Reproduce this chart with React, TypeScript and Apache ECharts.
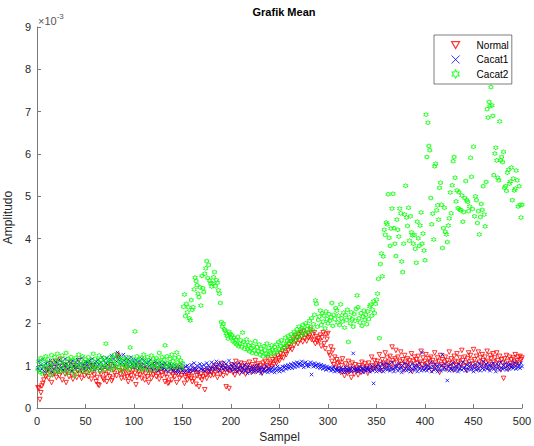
import React, { useEffect, useRef } from "react";
import * as echarts from "echarts";

const xTicks = [0, 50, 100, 150, 200, 250, 300, 350, 400, 450, 500];
const yTicks = [0, 1, 2, 3, 4, 5, 6, 7, 8, 9];
const seriesNames = ["Normal", "Cacat1", "Cacat2"];

// values in units of 1e-3, sample index = position + 1
const normal = [
  0.48, 0.46, 0.20, 0.36, 0.52, 0.58, 0.66, 0.80, 0.74, 0.88,
  0.92, 0.70, 0.85, 1.05, 0.60, 0.78, 0.95, 0.82, 1.10, 0.72,
  0.88, 0.98, 0.76, 1.15, 0.84, 0.66, 0.92, 1.02, 0.80, 0.60,
  0.86, 0.94, 0.74, 1.08, 0.90, 0.78, 0.68, 1.00, 0.84, 0.96,
  0.72, 0.88, 1.12, 0.80, 0.92, 0.70, 0.86, 0.98, 0.76, 0.90,
  0.82, 1.05, 0.74, 0.88, 0.95, 0.68, 0.84, 1.00, 0.78, 0.92,
  0.62, 0.72, 0.55, 0.53, 0.86, 0.80, 0.94, 0.70, 0.66, 0.88,
  0.78, 0.62, 0.96, 0.84, 0.74, 1.02, 0.64, 0.70, 0.90, 0.82,
  0.96, 0.76, 1.25, 1.20, 0.88, 0.80, 0.70, 0.94, 0.84, 0.72,
  0.86, 0.98, 0.74, 0.62, 0.80, 0.90, 0.76, 0.68, 0.88, 0.96,
  0.82, 0.55, 0.72, 0.92, 0.86, 0.78, 1.00, 0.70, 0.84, 0.92,
  0.66, 0.80, 0.94, 0.74, 0.60, 0.88, 0.82, 0.70, 0.96, 0.78,
  0.86, 1.02, 0.74, 0.90, 0.80, 0.68, 0.92, 0.84, 0.76, 0.98,
  0.88, 0.62, 0.80, 0.72, 0.58, 0.60, 0.94, 0.84, 0.66, 0.78,
  0.90, 0.74, 0.86, 0.60, 0.96, 0.80, 0.70, 0.88, 0.76, 0.92,
  0.84, 0.58, 0.72, 0.80, 0.66, 0.78, 0.74, 0.86, 0.70, 0.62,
  0.82, 0.68, 0.90, 0.56, 0.76, 0.84, 0.50, 0.72, 0.80, 0.66,
  0.74, 0.88, 0.43, 0.78, 0.70, 0.82, 0.86, 0.92, 0.76, 0.84,
  0.90, 0.78, 0.96, 0.84, 1.00, 0.72, 0.88, 0.94, 0.80, 1.05,
  0.86, 0.76, 0.92, 0.98, 0.50, 0.82, 0.90, 0.46, 0.88, 0.94,
  1.02, 0.84, 0.96, 0.78, 1.10, 0.88, 0.92, 1.00, 0.82, 1.06,
  0.90, 0.98, 0.86, 1.04, 0.80, 0.94, 1.00, 0.88, 1.08, 0.92,
  0.84, 1.02, 0.96, 0.90, 1.12, 0.86, 0.98, 1.04, 0.92, 1.00,
  0.88, 0.82, 1.06, 0.96, 1.10, 0.90, 1.00, 1.18, 0.94, 1.04,
  1.08, 0.98, 1.14, 1.02, 1.20, 1.10, 1.06, 1.24, 1.16, 1.12,
  1.28, 1.20, 1.34, 1.18, 1.40, 1.30, 1.26, 1.44, 1.36, 1.50,
  1.42, 1.56, 1.38, 1.62, 1.48, 1.70, 1.58, 1.66, 1.52, 1.74,
  1.60, 1.78, 1.68, 1.56, 1.82, 1.64, 1.72, 1.58, 1.76, 1.66,
  1.70, 1.84, 1.62, 1.74, 1.60, 1.78, 1.52, 1.68, 1.56, 1.64,
  1.58, 1.72, 1.46, 1.66, 1.78, 1.52, 1.40, 1.74, 1.62, 1.76,
  1.30, 1.24, 1.44, 1.10, 1.36, 1.02, 1.20, 0.96, 1.14, 1.06,
  0.92, 1.08, 0.84, 1.00, 1.16, 0.88, 0.76, 1.04, 0.94, 0.82,
  1.10, 0.86, 0.98, 0.72, 1.06, 0.90, 0.80, 1.02, 0.94, 0.88,
  0.78, 1.00, 0.92, 0.84, 1.08, 0.96, 0.86, 1.04, 0.90, 0.98,
  0.82, 1.06, 0.94, 0.88, 1.20, 1.00, 0.92, 1.12, 0.96, 1.04,
  1.10, 0.94, 1.26, 1.02, 0.88, 1.14, 1.06, 0.98, 1.30, 1.00,
  1.18, 1.08, 0.92, 1.22, 1.04, 1.44, 1.12, 0.96, 1.16, 1.36,
  1.06, 1.20, 0.98, 1.10, 1.32, 1.02, 1.14, 0.90, 1.24, 1.08,
  1.00, 1.16, 0.94, 1.12, 1.04, 1.28, 0.86, 1.10, 1.20, 0.98,
  1.14, 1.06, 1.22, 0.96, 1.08, 1.34, 1.02, 1.18, 0.92, 1.10,
  1.26, 1.04, 0.96, 1.16, 1.08, 1.20, 0.88, 1.12, 1.00, 1.30,
  1.06, 0.94, 1.18, 1.10, 0.84, 1.24, 1.02, 1.14, 0.98, 1.08,
  1.20, 0.92, 1.12, 1.04, 1.32, 0.96, 1.16, 1.06, 0.90, 1.22,
  1.10, 1.00, 1.28, 1.08, 0.94, 1.18, 1.04, 1.36, 1.12, 0.98,
  1.20, 1.06, 0.88, 1.16, 1.30, 1.02, 1.24, 1.10, 0.96, 1.38,
  1.14, 1.04, 1.22, 0.92, 1.32, 1.08, 1.18, 1.00, 1.26, 1.12,
  0.98, 1.20, 1.06, 1.34, 1.10, 0.94, 1.24, 1.16, 1.02, 1.28,
  1.08, 1.18, 0.96, 1.30, 1.12, 1.04, 1.22, 0.90, 1.14, 1.06,
  0.70, 1.16, 1.00, 1.24, 1.10, 0.92, 1.20, 1.04, 1.14, 0.98,
  1.18, 1.08, 1.26, 1.02, 1.12, 1.20, 1.06, 1.22, 1.14, 1.18,
];

const cacat1 = [
  0.95, 1.10, 0.88, 1.02, 0.92, 1.15, 0.98, 0.86, 1.05, 0.94,
  1.08, 0.90, 1.00, 1.12, 0.96, 0.84, 1.04, 0.92, 1.10, 0.98,
  1.06, 0.88, 1.14, 1.00, 0.94, 1.08, 0.90, 1.02, 1.16, 0.96,
  1.04, 0.92, 1.10, 0.98, 1.06, 0.88, 1.12, 1.00, 0.94, 1.08,
  0.96, 1.14, 1.02, 0.90, 1.06, 1.18, 0.98, 1.04, 0.92, 1.10,
  1.00, 1.08, 0.94, 1.12, 1.04, 0.96, 1.16, 1.02, 0.90, 1.06,
  1.10, 0.98, 1.14, 1.04, 0.92, 1.08, 1.20, 1.00, 1.12, 0.96,
  1.06, 1.18, 1.02, 1.10, 0.94, 1.14, 1.24, 1.06, 1.16, 1.00,
  1.20, 1.10, 1.31, 1.14, 1.22, 1.04, 1.16, 1.08, 1.26, 1.12,
  1.02, 1.18, 1.08, 1.14, 0.98, 1.10, 1.20, 1.04, 1.12, 0.96,
  1.06, 1.14, 1.00, 1.08, 0.94, 1.10, 1.02, 1.16, 0.96, 1.04,
  1.12, 0.98, 1.06, 0.92, 1.08, 1.00, 1.14, 0.94, 1.04, 0.90,
  1.02, 1.10, 0.96, 1.06, 0.88, 1.00, 1.08, 0.94, 1.04, 0.92,
  0.98, 1.06, 0.90, 1.02, 0.86, 0.96, 1.04, 0.92, 1.00, 0.88,
  0.94, 1.02, 0.86, 0.98, 0.90, 0.84, 0.96, 0.92, 1.04, 0.88,
  0.92, 0.84, 0.98, 0.88, 1.00, 0.94, 0.86, 0.90, 1.02, 0.96,
  0.88, 1.06, 0.94, 0.90, 1.00, 0.86, 0.96, 1.04, 0.92, 0.98,
  0.90, 1.02, 0.88, 0.96, 1.06, 0.92, 1.00, 0.86, 0.94, 1.08,
  0.96, 1.04, 0.90, 0.98, 1.10, 0.94, 1.02, 0.88, 1.06, 0.96,
  1.00, 0.92, 1.08, 0.96, 1.04, 0.90, 0.98, 1.12, 0.94, 1.02,
  0.88, 0.96, 1.04, 0.92, 1.00, 0.86, 0.94, 1.06, 0.90, 0.98,
  0.84, 0.96, 0.90, 1.02, 0.88, 0.94, 0.82, 1.00, 0.92, 0.86,
  0.96, 0.90, 0.84, 0.98, 0.92, 0.88, 1.00, 0.86, 0.94, 0.90,
  0.82, 0.96, 0.88, 0.92, 0.86, 1.00, 0.90, 0.84, 0.94, 0.88,
  0.92, 0.86, 0.96, 0.90, 0.84, 0.94, 0.88, 0.98, 0.92, 0.86,
  0.94, 0.90, 0.98, 0.88, 0.96, 1.00, 0.92, 0.96, 1.02, 0.94,
  0.98, 1.04, 0.94, 1.00, 1.06, 0.96, 1.02, 1.08, 0.98, 1.04,
  1.06, 1.00, 1.10, 1.02, 0.96, 1.06, 1.08, 1.00, 1.04, 0.98,
  1.02, 1.08, 0.79, 1.04, 0.98, 1.06, 1.00, 1.02, 0.96, 1.04,
  1.00, 0.94, 1.02, 0.98, 0.92, 1.00, 0.96, 0.90, 0.98, 0.94,
  0.92, 0.96, 0.88, 0.94, 0.90, 0.96, 0.86, 0.92, 0.88, 0.94,
  0.90, 0.86, 0.94, 0.88, 0.92, 0.84, 0.90, 0.96, 0.86, 0.92,
  0.88, 0.94, 0.90, 0.86, 0.96, 1.29, 0.92, 0.88, 0.94, 0.90,
  0.86, 0.92, 0.98, 0.88, 0.94, 0.84, 0.90, 0.96, 0.88, 0.92,
  0.96, 0.90, 0.86, 0.94, 1.00, 0.88, 0.58, 0.92, 0.98, 0.86,
  0.94, 1.02, 0.88, 0.96, 0.90, 1.04, 0.86, 0.98, 0.92, 1.06,
  0.90, 0.96, 1.02, 0.88, 0.94, 1.08, 0.92, 0.86, 1.00, 0.94,
  0.98, 0.88, 1.04, 0.92, 0.96, 0.84, 1.00, 0.90, 1.06, 0.94,
  0.88, 1.02, 0.92, 0.98, 0.86, 0.94, 1.04, 0.90, 0.96, 1.00,
  0.92, 0.86, 0.98, 1.06, 0.94, 0.88, 1.31, 0.96, 0.90, 1.02,
  0.94, 0.88, 1.00, 0.92, 0.96, 1.08, 0.86, 0.98, 0.90, 1.04,
  0.92, 0.98, 0.86, 1.02, 0.94, 0.88, 1.00, 1.26, 0.90, 0.96,
  1.04, 0.92, 0.65, 0.98, 0.88, 1.02, 0.94, 0.90, 1.06, 0.96,
  0.88, 1.00, 0.94, 0.86, 1.04, 0.92, 0.98, 0.90, 1.08, 0.94,
  0.96, 0.88, 1.02, 0.92, 0.98, 1.06, 0.90, 0.94, 1.00, 0.86,
  0.94, 1.04, 0.90, 0.98, 0.92, 1.06, 0.88, 1.00, 0.94, 1.10,
  0.90, 0.98, 1.04, 0.92, 0.96, 1.02, 0.88, 1.00, 0.94, 1.06,
  0.92, 0.98, 0.86, 1.04, 0.94, 1.00, 0.90, 1.08, 0.96, 0.92,
  1.00, 0.94, 1.06, 0.90, 0.98, 1.02, 0.92, 1.04, 0.96, 1.00,
  0.94, 1.08, 0.98, 0.92, 1.04, 0.96, 1.00, 0.94, 1.06, 0.98,
];

const cacat2 = [
  0.92, 1.10, 0.85, 1.18, 1.00, 0.80, 1.12, 0.95, 1.22, 1.05,
  0.88, 1.15, 0.98, 0.78, 1.25, 1.06, 0.92, 1.20, 0.84, 1.08,
  1.28, 0.96, 1.14, 0.86, 1.02, 1.24, 0.90, 1.10, 0.98, 1.30,
  0.82, 1.16, 1.04, 0.94, 1.20, 0.88, 1.12, 1.00, 0.78, 1.18,
  1.06, 0.92, 1.26, 0.98, 1.10, 0.86, 1.22, 1.02, 0.94, 1.14,
  1.08, 0.84, 1.20, 0.96, 1.12, 1.04, 0.90, 1.28, 1.00, 1.16,
  0.94, 1.10, 1.02, 1.24, 0.88, 1.14, 0.98, 1.06, 1.18, 0.92,
  1.52, 1.04, 1.12, 0.96, 1.20, 1.08, 0.90, 1.16, 1.02, 1.26,
  0.98, 1.10, 1.22, 0.94, 1.14, 1.04, 0.88, 1.18, 1.06, 1.00,
  1.12, 0.96, 1.20, 1.08, 0.92, 1.43, 1.02, 1.16, 0.98, 1.10,
  1.81, 1.04, 1.22, 0.94, 1.12, 1.00, 1.18, 0.90, 1.08, 1.26,
  0.96, 1.14, 1.04, 1.20, 0.88, 1.10, 1.02, 1.24, 0.98, 1.16,
  1.06, 0.92, 1.18, 1.00, 1.12, 1.30, 0.96, 1.08, 1.20, 1.02,
  1.14, 1.48, 0.98, 1.22, 1.06, 0.94, 1.16, 1.04, 1.26, 1.10,
  1.00, 1.18, 0.96, 1.31, 1.08, 1.20, 1.02, 1.12, 0.94, 1.06,
  2.39, 2.68, 2.17, 2.46, 2.26, 2.38, 2.12, 2.07, 2.55, 2.32,
  2.38, 2.80, 3.08, 3.00, 2.90, 2.70, 2.62, 2.85, 2.42, 3.12,
  2.83, 2.74, 3.17, 3.30, 3.47, 3.07, 3.38, 3.01, 2.95, 2.87,
  2.94, 3.09, 3.21, 2.88, 3.02, 2.96, 2.78, 2.70, 2.48, 2.03,
  1.92, 1.99, 1.86, 1.83, 1.76, 1.71, 1.64, 1.80, 1.75, 1.67,
  1.72, 1.58, 1.66, 1.54, 1.61, 1.50, 1.68, 1.46, 1.52, 1.60,
  1.44, 1.78, 1.56, 1.40, 1.50, 1.62, 1.38, 1.48, 1.34, 1.54,
  1.42, 1.30, 1.46, 1.36, 1.58, 1.28, 1.44, 1.34, 1.50, 1.26,
  1.40, 1.32, 1.22, 1.46, 1.36, 1.28, 1.52, 1.24, 1.42, 1.34,
  1.30, 1.48, 1.38, 1.26, 1.44, 1.36, 1.50, 1.32, 1.56, 1.40,
  1.46, 1.60, 1.38, 1.52, 1.44, 1.66, 1.48, 1.58, 1.70, 1.54,
  1.62, 1.74, 1.56, 1.68, 1.80, 1.60, 1.76, 1.86, 1.66, 1.92,
  1.78, 1.70, 1.88, 1.96, 1.82, 1.74, 2.00, 1.86, 1.94, 1.80,
  2.06, 1.90, 2.12, 1.84, 1.98, 2.20, 2.54, 2.46, 1.92, 2.08,
  2.16, 2.30, 1.96, 2.24, 2.04, 2.18, 1.88, 2.28, 2.10, 2.00,
  2.22, 2.06, 2.14, 2.48, 1.94, 2.20, 2.10, 2.36, 2.30, 2.02,
  2.18, 1.96, 2.45, 2.12, 2.04, 2.25, 1.90, 2.20, 2.08, 2.32,
  1.56, 2.14, 2.00, 2.26, 2.10, 1.92, 2.22, 2.06, 2.34, 2.66,
  2.38, 2.12, 2.02, 2.24, 1.94, 2.16, 2.30, 2.08, 2.20, 1.98,
  2.28, 2.10, 2.40, 2.44, 2.18, 2.32, 2.52, 2.24, 2.46, 2.56,
  2.70, 3.05, 1.65, 3.40, 3.65, 3.11, 3.58, 4.21, 4.09, 4.38,
  4.34, 5.05, 4.02, 3.83, 4.24, 4.71, 5.06, 4.25, 3.88, 3.59,
  4.45, 4.21, 4.05, 4.71, 4.60, 3.46, 3.21, 3.88, 4.57, 5.25,
  4.50, 4.30, 4.73, 3.95, 4.53, 4.15, 4.08, 3.88, 4.09, 3.76,
  3.43, 4.40, 4.01, 3.83, 4.31, 4.62, 3.88, 4.12, 3.72, 3.49,
  6.93, 5.93, 6.74, 6.19, 6.09, 4.96, 4.34, 4.59, 3.98, 5.71,
  5.77, 4.67, 4.79, 4.45, 5.20, 5.32, 4.80, 3.78, 4.25, 4.73,
  4.16, 4.10, 3.92, 4.31, 4.48, 5.09, 4.60, 5.26, 5.83, 5.93,
  5.44, 4.88, 5.14, 4.72, 5.10, 4.69, 4.67, 5.02, 4.40, 4.63,
  4.96, 5.36, 4.91, 4.87, 4.65, 4.76, 5.91, 5.46, 4.70, 6.17,
  4.53, 5.00, 4.91, 4.37, 4.65, 4.10, 4.51, 4.82, 4.68, 5.24,
  4.57, 4.29, 5.34, 7.06, 6.86, 7.23, 7.13, 7.58, 7.15, 6.90,
  5.50, 6.01, 6.15, 5.85, 5.44, 5.38, 6.77, 5.85, 5.93, 5.81,
  6.05, 5.20, 5.24, 5.13, 5.56, 5.63, 5.30, 5.35, 5.68, 4.91,
  5.42, 5.14, 5.18, 5.61, 5.38, 4.76, 5.24, 4.80, 4.50, 4.80,
];

const FONT = "Liberation Sans, Arial, Helvetica, sans-serif";
const TRI = "path://M0,0 L10,0 L5,8.66 Z";
const CROSS = "path://M0,0 L10,10 M10,0 L0,10";
const HEX =
  "path://M0,-10 L2.89,-5 L8.66,-5 L5.77,0 L8.66,5 L2.89,5 L0,10 L-2.89,5 L-8.66,5 L-5.77,0 L-8.66,-5 L-2.89,-5 Z";

const toPoints = (arr: number[]) => arr.map((v, i) => [i + 1, v]);

export default function App() {
  const ref = useRef<HTMLDivElement>(null);
  useEffect(() => {
    if (!ref.current) return;
    const chart = echarts.init(ref.current, null, { renderer: "svg" });
    const axisColor = "#7a7a7a";
    const labelColor = "#262626";
    const mk = (name: string, data: number[], symbol: string, color: string, size: number) => ({
      name,
      type: "scatter",
      data: toPoints(data),
      symbol,
      symbolSize: size,
      itemStyle: { color: "rgba(0,0,0,0)", borderColor: color, borderWidth: 1 },
      emphasis: { disabled: true },
    });
    chart.setOption({
      animation: false,
      backgroundColor: "#ffffff",
      textStyle: { fontFamily: FONT },
      title: {
        text: "Grafik Mean",
        left: 279,
        top: 1,
        textAlign: "center",
        textStyle: { fontSize: 11, fontWeight: "bold", color: "#000", fontFamily: FONT },
      },
      grid: {
        left: 37,
        right: 12,
        top: 27,
        bottom: 38,
        containLabel: false,
        outerBoundsMode: "none",
      },
      legend: {
        orient: "vertical",
        left: 434,
        top: 35,
        itemWidth: 8,
        itemHeight: 8,
        itemGap: 4.5,
        padding: [5, 3, 5, 17],
        borderColor: "#262626",
        borderWidth: 0.6,
        backgroundColor: "#fff",
        textStyle: { fontSize: 10, color: "#000", fontFamily: FONT, padding: [0, 0, 0, 12] },
        data: [
          { name: seriesNames[0], icon: TRI, itemStyle: { color: "rgba(0,0,0,0)", borderColor: "#ff0000", borderWidth: 1.2 } },
          { name: seriesNames[1], icon: CROSS, itemStyle: { color: "rgba(0,0,0,0)", borderColor: "#0000ff", borderWidth: 1 } },
          { name: seriesNames[2], icon: HEX, itemStyle: { color: "rgba(0,0,0,0)", borderColor: "#00ff00", borderWidth: 1.2 } },
        ],
      },
      xAxis: {
        type: "value",
        min: xTicks[0],
        max: xTicks[xTicks.length - 1],
        interval: 50,
        name: "Sampel",
        nameLocation: "middle",
        nameGap: 23,
        nameTextStyle: { fontSize: 12, color: labelColor, fontFamily: FONT },
        axisLine: { show: true, lineStyle: { color: axisColor, width: 1 } },
        axisTick: { show: true, inside: true, length: 4, lineStyle: { color: axisColor } },
        axisLabel: { fontSize: 11, color: labelColor, margin: 7, fontFamily: FONT },
        splitLine: { show: false },
      },
      yAxis: {
        type: "value",
        min: yTicks[0],
        max: yTicks[yTicks.length - 1],
        interval: 1,
        name: "Amplitudo",
        nameLocation: "middle",
        nameGap: 17,
        nameTextStyle: { fontSize: 12, color: labelColor, fontFamily: FONT },
        axisLine: { show: true, lineStyle: { color: axisColor, width: 1 } },
        axisTick: { show: true, inside: true, length: 4, lineStyle: { color: axisColor } },
        axisLabel: { fontSize: 11, color: labelColor, margin: 6, fontFamily: FONT },
        splitLine: { show: false },
      },
      graphic: [
        {
          type: "text",
          left: 38,
          top: 12,
          style: {
            text: "{a|×10}{b|-3}",
            rich: {
              a: { fontSize: 11, fill: "#555", fontFamily: FONT, verticalAlign: "bottom" },
              b: { fontSize: 8, fill: "#555", fontFamily: FONT, verticalAlign: "top", padding: [0, 0, 6, 0] },
            },
          },
        },
      ],
      series: [
        mk(seriesNames[0], normal, TRI, "#ff0000", 4.5),
        mk(seriesNames[1], cacat1, CROSS, "#0000ff", 3.5),
        mk(seriesNames[2], cacat2, HEX, "#00ff00", 4.5),
      ],
    });
    return () => chart.dispose();
  }, []);
  return (
    <div
      ref={ref}
      style={{ position: "absolute", left: 0, top: 0, width: 534, height: 446, background: "#fff" }}
    />
  );
}
